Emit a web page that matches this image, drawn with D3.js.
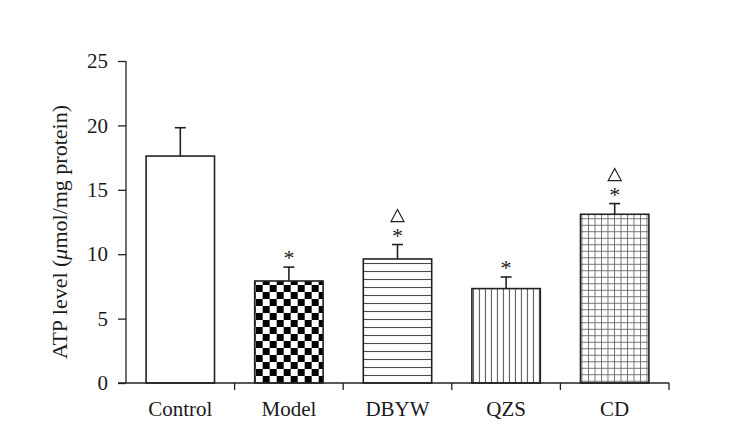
<!DOCTYPE html>
<html>
<head>
<meta charset="utf-8">
<script src="https://cdn.jsdelivr.net/npm/d3@7"></script>
<style>
  html, body { margin: 0; padding: 0; background: #fff; }
  svg { display: block; }
  text { font-family: "Liberation Serif", "Times New Roman", serif; fill: #1a1a1a; }
</style>
</head>
<body>
<svg id="chart" width="755" height="434"></svg>
<script>
// ---- data ----
const categories = ["Control", "Model", "DBYW", "QZS", "CD"];
const means = [17.62, 7.92, 9.63, 7.33, 13.1];
const errors = [2.2, 1.08, 1.12, 0.9, 0.83];
const starMarks = [false, true, true, true, true];
const triangleMarks = [false, false, true, false, true];
const patterns = ["none", "checker", "hlines", "vlines", "grid"];
const yTicks = [0, 5, 10, 15, 20, 25];
const yLabel = "ATP level (";
const yLabelMu = "\u03bc";
const yLabelRest = "mol/mg protein)";

// ---- layout ----
const plotLeft = 126, plotRight = 669, plotTop = 61, plotBottom = 383;
const fontSize = 21;
const svg = d3.select("#chart");

const x = d3.scaleBand().domain(categories).range([plotLeft, plotRight])
  .paddingInner(0.37).paddingOuter(0.185);
const y = d3.scaleLinear().domain([0, 25]).range([plotBottom, plotTop]);

const defs = svg.append("defs");
const ink = "#222";

// patterns
function makePattern(id, kind, bx, by) {
  if (kind === "checker") {
    const p = defs.append("pattern").attr("id", id).attr("patternUnits", "userSpaceOnUse")
      .attr("width", 14).attr("height", 14).attr("x", bx).attr("y", by);
    p.append("rect").attr("width", 14).attr("height", 14).attr("fill", "#fff");
    p.append("rect").attr("x", 0).attr("y", 0).attr("width", 7).attr("height", 7).attr("fill", "#000");
    p.append("rect").attr("x", 7).attr("y", 7).attr("width", 7).attr("height", 7).attr("fill", "#000");
  } else if (kind === "hlines") {
    const p = defs.append("pattern").attr("id", id).attr("patternUnits", "userSpaceOnUse")
      .attr("width", 8).attr("height", 8).attr("x", bx).attr("y", by);
    p.append("rect").attr("width", 8).attr("height", 8).attr("fill", "#fff");
    p.append("line").attr("x1", 0).attr("x2", 8).attr("y1", 0.5).attr("y2", 0.5)
      .attr("stroke", "#444").attr("stroke-width", 1.1);
  } else if (kind === "vlines") {
    const p = defs.append("pattern").attr("id", id).attr("patternUnits", "userSpaceOnUse")
      .attr("width", 6).attr("height", 6).attr("x", bx).attr("y", by);
    p.append("rect").attr("width", 6).attr("height", 6).attr("fill", "#fff");
    p.append("line").attr("y1", 0).attr("y2", 6).attr("x1", 0.5).attr("x2", 0.5)
      .attr("stroke", "#555").attr("stroke-width", 1.1);
  } else if (kind === "grid") {
    const p = defs.append("pattern").attr("id", id).attr("patternUnits", "userSpaceOnUse")
      .attr("width", 6.5).attr("height", 6.5).attr("x", bx).attr("y", by);
    p.append("rect").attr("width", 6.5).attr("height", 6.5).attr("fill", "#fff");
    p.append("line").attr("y1", 0).attr("y2", 6.5).attr("x1", 0.5).attr("x2", 0.5)
      .attr("stroke", "#666").attr("stroke-width", 0.9);
    p.append("line").attr("x1", 0).attr("x2", 6.5).attr("y1", 0.5).attr("y2", 0.5)
      .attr("stroke", "#666").attr("stroke-width", 0.9);
  }
}

categories.forEach((c, i) => {
  if (patterns[i] !== "none") makePattern("pat" + i, patterns[i], x(c) + 1, y(means[i]) + 4);
});

// bars
const g = svg.append("g");
g.selectAll("rect.bar").data(categories).join("rect")
  .attr("class", "bar")
  .attr("x", d => x(d))
  .attr("y", (d, i) => y(means[i]))
  .attr("width", x.bandwidth())
  .attr("height", (d, i) => y(0) - y(means[i]))
  .attr("fill", (d, i) => patterns[i] === "none" ? "#fff" : `url(#pat${i})`)
  .attr("stroke", ink).attr("stroke-width", 1.6);

// error bars (upper only) and significance marks
const capW = 11;
categories.forEach((c, i) => {
  const cx = x(c) + x.bandwidth() / 2;
  const yt = y(means[i] + errors[i]);
  g.append("line").attr("x1", cx).attr("x2", cx).attr("y1", y(means[i])).attr("y2", yt)
    .attr("stroke", ink).attr("stroke-width", 1.6);
  g.append("line").attr("x1", cx - capW / 2).attr("x2", cx + capW / 2).attr("y1", yt).attr("y2", yt)
    .attr("stroke", ink).attr("stroke-width", 1.6);
  if (starMarks[i]) {
    g.append("text").attr("x", cx).attr("y", yt - 2).attr("text-anchor", "middle")
      .attr("font-size", 22).text("*");
  }
  if (triangleMarks[i]) {
    const tb = yt - 23;
    g.append("path")
      .attr("d", `M${cx - 6.5},${tb} L${cx + 6.5},${tb} L${cx},${tb - 12} Z`)
      .attr("fill", "none").attr("stroke", ink).attr("stroke-width", 1.2);
  }
});

// y axis
const axisY = d3.axisLeft(y).tickValues(yTicks).tickSize(8).tickPadding(10).tickFormat(d3.format("d"));
const ay = svg.append("g").attr("transform", `translate(${plotLeft},0)`).call(axisY);
ay.select(".domain").attr("d", `M0,${plotTop}V${plotBottom}`).attr("stroke", ink).attr("stroke-width", 1.3);
ay.selectAll(".tick line").attr("stroke", ink).attr("stroke-width", 1.3);
ay.selectAll(".tick text").attr("font-size", fontSize).attr("font-family", "Liberation Serif").attr("fill", "#1a1a1a");

// x axis line and boundary ticks
svg.append("line").attr("x1", plotLeft - 8).attr("x2", plotRight).attr("y1", plotBottom).attr("y2", plotBottom)
  .attr("stroke", ink).attr("stroke-width", 1.3);
const step = x.step();
const bounds = d3.range(categories.length + 1).map(k => plotLeft + k * step);
svg.selectAll("line.xtick").data(bounds.slice(1)).join("line").attr("class", "xtick")
  .attr("x1", d => d).attr("x2", d => d).attr("y1", plotBottom).attr("y2", plotBottom + 7)
  .attr("stroke", ink).attr("stroke-width", 1.3);

svg.selectAll("text.xlab").data(categories).join("text").attr("class", "xlab")
  .attr("x", d => x(d) + x.bandwidth() / 2).attr("y", 416)
  .attr("text-anchor", "middle").attr("font-size", fontSize).text(d => d);

// y label
const yl = svg.append("text").attr("transform", "translate(67,232) rotate(-90)")
  .attr("text-anchor", "middle").attr("font-size", 22);
yl.append("tspan").text(yLabel);
yl.append("tspan").attr("font-style", "italic").text(yLabelMu);
yl.append("tspan").text(yLabelRest);
</script>
</body>
</html>
